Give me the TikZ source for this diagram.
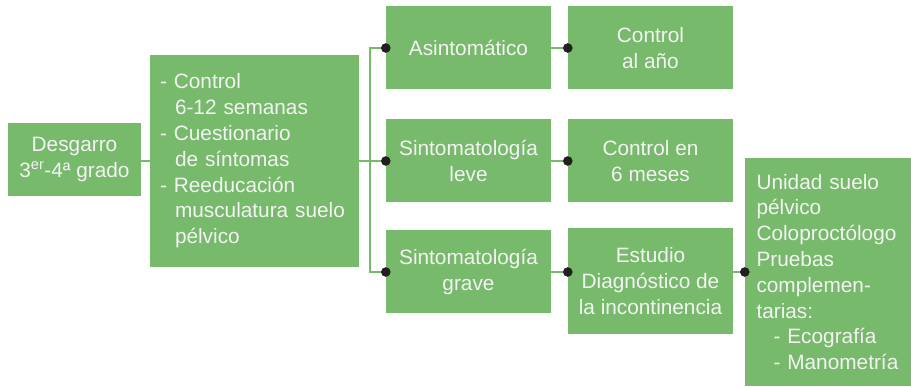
\documentclass[tikz,border=0pt]{standalone}
\usepackage{fontspec}
\setmainfont{Liberation Sans}
\definecolor{boxgreen}{RGB}{120,186,108}
\definecolor{boxtext}{RGB}{243,243,243}
\definecolor{dotblack}{RGB}{35,31,32}
\begin{document}
\begin{tikzpicture}[
            x=1pt, y=-1pt,
            every node/.style={fill=boxgreen, text=boxtext, inner sep=0pt,
                font=\fontsize{20.8}{25.8}\selectfont},
            box/.style={minimum width=165pt, minimum height=83pt, align=center},
            link/.style={draw=boxgreen, line width=1.5pt},
        ]
        \useasboundingbox (0,0) rectangle (911,387);
        \node[box, minimum width=133pt, minimum height=73pt] (desgarro) at (74.5,159.5) {Desgarro\\3\textsuperscript{er}-4ª grado};
        \node[box, minimum width=209pt, minimum height=212pt, align=left, text width=189pt] (plan) at (254.5,161)
            {- Control\\\hspace*{15pt}6-12 semanas\\- Cuestionario\\\hspace*{15pt}de síntomas\\- Reeducación\\\hspace*{15pt}musculatura suelo\\\hspace*{15pt}pélvico};
        \node[box] (asin) at (468.5,48) {Asintomático};
        \node[box] (leve) at (468.5,161) {Sintomatología\\leve};
        \node[box] (grave) at (468.5,272) {Sintomatología\\grave};
        \node[box] (anual) at (650.5,48) {Control\\al año};
        \node[box] (meses) at (650.5,161) {Control en\\6 meses};
        \node[box, minimum height=106pt] (estudio) at (650.5,281) {Estudio\\Diagnóstico de\\la incontinencia};
        \node[box, minimum width=166pt, minimum height=228pt, align=left, text width=143pt] (unidad) at (828,272)
            {Unidad suelo\\pélvico\\Coloproctólogo\\Pruebas\\complemen-\\tarias:\\\hspace*{17pt}- Ecografía\\\hspace*{17pt}- Manometría};
        \coordinate (split) at ([xshift=11pt]plan.east);
        \draw[link] (plan.west -| desgarro.east) -- (plan.west);
        \draw[link] (plan.east) -- (split);
        \draw[link] (asin.west) -| (split) |- (grave.west);
        \draw[link] (split) -- (leve.west);
        \draw[link] (asin.east) -- (anual.west);
        \draw[link] (leve.east) -- (meses.west);
        \draw[link] (grave.east) -- (grave.east -| estudio.west);
        \draw[link] (grave.east -| estudio.east) -- (grave.east -| unidad.west);
        \foreach \n in {asin,leve,grave,anual,meses}
            \fill[dotblack] (\n.west) circle (4.8pt);
        \fill[dotblack] (grave.east -| estudio.west) circle (4.8pt);
        \fill[dotblack] (grave.east -| unidad.west) circle (4.8pt);
        \end{tikzpicture}
\end{document}
